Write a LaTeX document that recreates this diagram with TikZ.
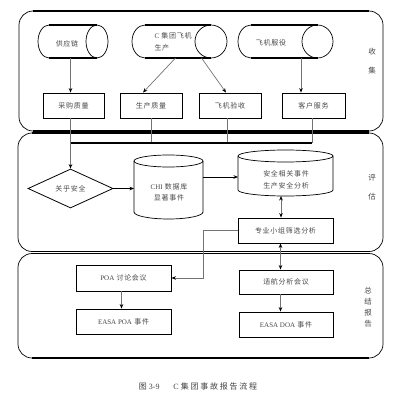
\documentclass[tikz,border=0pt]{standalone}
\usepackage{fontspec}
\setmainfont{Liberation Serif}
\newfontfamily\cjk[LetterSpace=10]{Noto Sans CJK SC}
\newfontfamily\cjkcap[LetterSpace=22]{Noto Sans CJK SC}
\usetikzlibrary{shapes.geometric,arrows.meta}
\begin{document}
\begin{tikzpicture}[x=1pt,y=-1pt,
  txt/.style={font=\fontsize{7}{11.5}\selectfont\cjk, text=black!72, align=center},
  boxnode/.style={draw=black, line width=0.9pt, minimum height=25pt, inner sep=0pt, txt},
  ghost/.style={inner sep=0pt, outer sep=0pt},
  conn/.style={draw=black!55, line width=0.7pt},
  tip/.style={-{Stealth[length=4.5pt,width=3.6pt,black]}},
  arr/.style={conn, tip},
  darr/.style={conn, {Stealth[length=4.5pt,width=3.6pt,black]}-{Stealth[length=4.5pt,width=3.6pt,black]}},
  thinline/.style={line width=0.7pt},
  hbar/.style={line width=1.6pt},
  sidelab/.style={txt, font=\fontsize{7.5}{9}\selectfont\cjk},
]
\useasboundingbox (0,0) rectangle (403,404);

% ---------- panels ----------
\draw[thinline, rounded corners=14pt] (19,11) rectangle (383,131);
\draw[hbar] (33,11) -- (369,11);
\draw[hbar] (33,131) -- (369,131);
\draw[thinline, rounded corners=14pt] (18,133) rectangle (383,251.5);
\draw[hbar] (32,133) -- (369,133);
\draw[hbar] (32,251.5) -- (369,251.5);
\draw[thinline, rounded corners=14pt] (18,253.5) rectangle (383,358);
\draw[hbar] (32,253.5) -- (369,253.5);
\draw[hbar] (32,358) -- (369,358);

% ---------- horizontal cylinders ----------
% supply chain
\draw[thinline] (49,58) arc[start angle=90,end angle=270,x radius=11,y radius=16.5];
\draw[thinline] (97,41.5) ellipse[x radius=11,y radius=16.5];
\draw[hbar] (49,25) -- (97,25);
\draw[hbar] (49,58) -- (97,58);
\node[ghost, minimum width=70pt, minimum height=33pt] (supply) at (73,41.5) {};
\node[txt] (supplytxt) at (67,44) {供应链};

% C group production
\draw[thinline] (145,58) arc[start angle=90,end angle=270,x radius=13,y radius=16.5];
\draw[thinline] (211,41.5) ellipse[x radius=16,y radius=16.5];
\draw[hbar] (145,25) -- (211,25);
\draw[hbar] (145,58) -- (211,58);
\node[ghost, minimum width=95pt, minimum height=33pt] (mfg) at (179.5,41.5) {};
\node[txt, align=left, anchor=west] (mfgtxt) at (151,42) {{\rmfamily C} 集团飞机\\生产};

% in service
\draw[thinline] (251,58) arc[start angle=90,end angle=270,x radius=13,y radius=16.5];
\draw[thinline] (317.5,41.5) ellipse[x radius=15.5,y radius=16.5];
\draw[hbar] (251,25) -- (317.5,25);
\draw[hbar] (251,58) -- (317.5,58);
\node[ghost, minimum width=95pt, minimum height=33pt] (service) at (285.5,41.5) {};
\node[txt] (servicetxt) at (271,43) {飞机服役};

% ---------- row of boxes ----------
\node[boxnode, minimum width=61pt] (buy) at (73.5,105.5) {采购质量};
\node[boxnode, minimum width=62pt] (prod) at (151,105.5) {生产质量};
\node[boxnode, minimum width=62pt] (acc) at (230,105.5) {飞机验收};
\node[boxnode, minimum width=63pt] (cust) at (313.5,105.5) {客户服务};
\coordinate (bus) at (0,143);

% ---------- evaluation ----------
\node[draw, diamond, aspect=2.18, minimum width=85pt, minimum height=39pt, inner sep=0pt, line width=0.8pt, txt] (diamond) at (70.5,188.5) {关乎安全};

% CHI cylinder
\draw[thinline] (134,161) -- (134,212) arc[start angle=180,end angle=0,x radius=34.5,y radius=7] -- (203,161);
\draw[thinline] (168.5,161) ellipse[x radius=34.5,y radius=6];
\node[ghost, minimum width=69pt, minimum height=64pt] (chi) at (168.5,187) {};
\node[txt] (chitxt) at (169,192.5) {{\rmfamily CHI} 数据库\\显著事件};

% safety cylinder
\draw[thinline] (238,156) -- (238,190) arc[start angle=180,end angle=0,x radius=47.5,y radius=6] -- (333,156);
\draw[thinline] (285.5,156) ellipse[x radius=47.5,y radius=6];
\node[ghost, minimum width=95pt, minimum height=46pt] (safe) at (285.5,173) {};
\node[txt] (safetxt) at (286,180) {安全相关事件\\生产安全分析};

\node[boxnode, minimum width=95pt] (spec) at (285.5,230.5) {专业小组筛选分析};

% ---------- summary ----------
\node[boxnode, minimum width=95pt, minimum height=26pt] (poa) at (123.5,278) {{\rmfamily POA} 讨论会议};
\node[boxnode, minimum width=95pt] (epoa) at (123.5,321.5) {{\rmfamily EASA POA} 事件};
\node[boxnode, minimum width=94pt, minimum height=24pt] (ship) at (286,282) {适航分析会议};
\node[boxnode, minimum width=94pt] (doa) at (286,324.5) {{\rmfamily EASA DOA} 事件};

% ---------- side labels ----------
\node[sidelab] (l1) at (372,52) {收};
\node[sidelab] (l2) at (372,71) {集};
\node[sidelab] (l3) at (372,178) {评};
\node[sidelab] (l4) at (372,197) {估};
\node[sidelab] (l5) at (368,291) {总};
\node[sidelab] (l6) at (368,302) {结};
\node[sidelab] (l7) at (368,313) {报};
\node[sidelab] (l8) at (368,324) {告};

% ---------- caption ----------
\node[font=\fontsize{8}{10}\selectfont, text=black!75] (cap) at (198,386) {{\cjkcap 图} 3-9\hspace{14pt}C {\cjkcap 集团事故报告流程}};

% ---------- connectors ----------
\draw[arr] (supply.south -| diamond.north) -- (buy.north -| diamond.north);
\draw[arr] ([xshift=-4pt]mfg.south) -- ([xshift=-8pt]prod.north);
\draw[arr] ([xshift=22pt]mfg.south) -- ([xshift=-4pt]acc.north);
\draw[arr] ([xshift=15.5pt]service.south) -- ([xshift=-12.5pt]cust.north);

\draw[conn] (prod.south) -- (prod.south |- bus);
\draw[conn] ([xshift=-3pt]acc.south) -- ([xshift=-3pt]acc.south |- bus);
\draw[conn] ([xshift=-1.5pt]cust.south) -- ([xshift=-1.5pt]cust.south |- bus);
\draw[hbar] (diamond.north |- bus) -- ([xshift=-1.5pt]cust.south |- bus);
\draw[arr] (diamond.north |- buy.south) -- (diamond.north);

\draw[arr, draw=black, line width=0.9pt] (diamond.east) -- (chi.west |- diamond.east);
\draw[arr, draw=black, line width=0.9pt] ([yshift=10pt]chi.east) -- ([yshift=10pt]chi.east -| safe.west);
\draw[darr] ([xshift=-4.5pt]safe.south) -- ([xshift=-4.5pt]spec.north);
\draw[arr] (spec.west) -- ++(-34,0) |- (poa.east);
\draw[darr] ([xshift=-5pt]spec.south) -- ([xshift=-5pt]spec.south |- ship.north);
\draw[arr] ([xshift=-5.5pt]ship.south) -- ([xshift=-5.5pt]ship.south |- doa.north);
\draw[arr] ([xshift=-2pt]poa.south) -- ([xshift=-2pt]poa.south |- epoa.north);
\end{tikzpicture}
\end{document}
